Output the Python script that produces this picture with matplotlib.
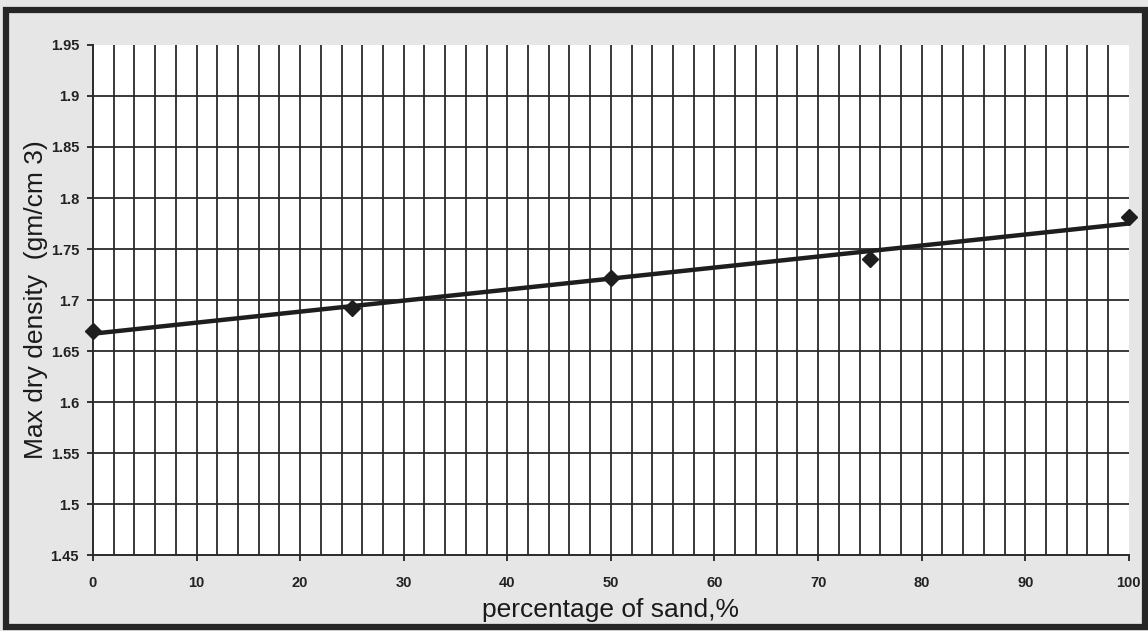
import matplotlib
matplotlib.use('Agg')
import matplotlib.pyplot as plt
import numpy as np
from matplotlib.patches import Rectangle
from matplotlib.ticker import MultipleLocator, FuncFormatter

# values
sand_pct = [0, 25, 50, 75, 100]
max_dry_density = [1.670, 1.692, 1.722, 1.740, 1.781]

x_ticks = [0, 10, 20, 30, 40, 50, 60, 70, 80, 90, 100]
y_ticks = [1.45, 1.5, 1.55, 1.6, 1.65, 1.7, 1.75, 1.8, 1.85, 1.9, 1.95]

plt.rcParams['font.family'] = ['Liberation Sans', 'DejaVu Sans']

fig = plt.figure(figsize=(11.48, 6.31), dpi=100)
fig.patch.set_facecolor('#e6e6e6')
ax = fig.add_axes([0.081, 0.1204, 0.9023, 0.8083])
ax.set_facecolor('white')

# linear trend line through the points
coef = np.polyfit(sand_pct, max_dry_density, 1)
xs = np.array([sand_pct[0], sand_pct[-1]])
ax.plot(xs, np.polyval(coef, xs), color='#1e1e1e', lw=3.2, zorder=3)
ax.plot(sand_pct, max_dry_density, 'D', color='#1e1e1e', ms=8, zorder=4,
        clip_on=False)

ax.set_xlim(0, 100)
ax.set_ylim(1.45, 1.95)
ax.set_xticks(x_ticks)
ax.set_yticks(y_ticks)
ax.xaxis.set_minor_locator(MultipleLocator(2))
ax.yaxis.set_major_formatter(FuncFormatter(lambda v, p: ('%.2f' % v).rstrip('0')))

# grid: horizontal at the majors, vertical every 2 %
for yv in y_ticks[1:-1]:
    ax.axhline(yv, color='#2a2a2a', lw=1.3, zorder=1)
for xv in range(2, 100, 2):
    ax.axvline(xv, color='#2a2a2a', lw=1.3, zorder=1)

for s in ['top', 'right']:
    ax.spines[s].set_visible(False)
for s in ['left', 'bottom']:
    ax.spines[s].set_color('#2a2a2a')
    ax.spines[s].set_linewidth(1.4)

ax.tick_params(axis='x', which='major', length=4, width=1.3, pad=11,
               labelsize=10.5, colors='#222222')
ax.tick_params(axis='x', which='minor', length=0)
ax.tick_params(axis='y', length=4, width=1.3, pad=6, labelsize=10.5,
               colors='#222222')
for lab in ax.get_xticklabels() + ax.get_yticklabels():
    lab.set_fontweight('bold')

ax.set_xlabel('percentage of sand,%', fontsize=19, color='#1a1a1a', labelpad=6)
ax.set_ylabel('Max dry density  (gm/cm 3)', fontsize=19, color='#1a1a1a',
              labelpad=2)

# thick scanned frame around the whole chart
fig.patches.append(Rectangle((0.005, 0.006), 0.992, 0.978, transform=fig.transFigure,
                             fill=False, edgecolor='#262626', lw=4.5))

fig.savefig('out.png', dpi=100, facecolor=fig.get_facecolor())
